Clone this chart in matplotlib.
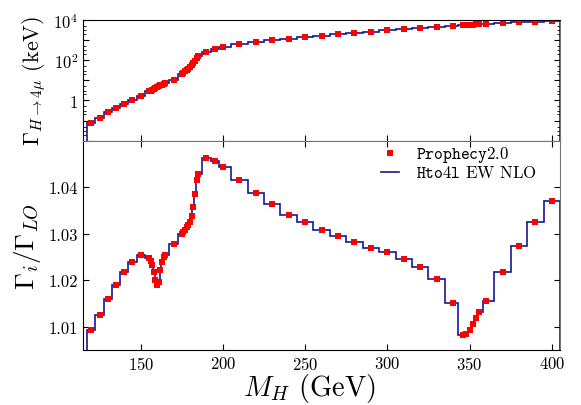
import matplotlib
matplotlib.use("Agg")
import matplotlib.pyplot as plt
from matplotlib.ticker import FixedLocator, LogLocator, NullFormatter
import numpy as np

plt.rcParams['font.family'] = 'serif'
plt.rcParams['font.serif'] = ['cmr10']
plt.rcParams['mathtext.fontset'] = 'cm'
plt.rcParams['axes.formatter.use_mathtext'] = True

# Higgs masses (GeV)
mass = np.array([120, 125, 130, 135, 140, 145, 150,
                 155, 156, 157, 158, 159, 160, 161, 162, 163, 164, 165,
                 170, 175, 176, 177, 178, 179, 180, 181, 182, 183, 184, 185,
                 190, 195, 200, 210, 220, 230, 240, 250, 260, 270, 280, 290,
                 300, 310, 320, 330, 340, 346, 348, 350, 352, 354, 356,
                 360, 370, 380, 390, 400])

# partial width H -> 4mu (keV)
gamma_4mu = np.array([0.073, 0.133, 0.255, 0.416, 0.656, 1.07, 1.69,
                      2.79, 3.08, 3.39, 3.73, 4.11, 4.53, 4.99, 5.50, 6.03, 6.61, 7.24,
                      10.5, 20.7, 23.7, 27.3, 31.6, 36.6, 43.7, 53.7, 69.2, 93.3, 126, 155,
                      245, 347, 421, 612, 743, 933, 1122, 1409, 1622, 1914, 2223, 2594,
                      2917, 3388, 3793, 4406, 4932, 5430, 5560, 5650, 5750, 5860, 5960,
                      6166, 6761, 7516, 8128, 9120])

# ratio Gamma_i / Gamma_LO
ratio = np.array([1.0093, 1.0125, 1.0160, 1.0190, 1.0217, 1.0240, 1.0253,
                  1.0248, 1.0241, 1.0232, 1.0217, 1.0201, 1.0190, 1.0196, 1.0222, 1.0240, 1.0249, 1.0255,
                  1.0278, 1.0299, 1.0303, 1.0308, 1.0314, 1.0319, 1.0325, 1.0337, 1.0357, 1.0386, 1.0416, 1.0429,
                  1.0462, 1.0457, 1.0444, 1.0416, 1.0388, 1.0363, 1.0341, 1.0325, 1.0308, 1.0295, 1.0283, 1.0270,
                  1.0260, 1.0246, 1.0229, 1.0202, 1.0150, 1.0082, 1.0083, 1.0093, 1.0105, 1.0118, 1.0131,
                  1.0156, 1.0217, 1.0274, 1.0325, 1.0370])

# Hto4l histogram sits on the same values
hto4l_gamma = gamma_4mu
hto4l_ratio = ratio

# bin edges halfway between neighbouring masses
mid = (mass[1:] + mass[:-1]) / 2
edges = np.concatenate([[mass[0] - (mass[1] - mass[0]) / 2], mid,
                        [mass[-1] + (mass[-1] - mass[-2]) / 2]])

line_col = '#15159a'
pt_col = '#ff0000'

fig = plt.figure(figsize=(5.81, 4.06), dpi=100)
ax1 = fig.add_axes([0.143, 0.651, 0.821, 0.298])
ax2 = fig.add_axes([0.143, 0.136, 0.821, 0.515])

# top panel
ax1.stairs(hto4l_gamma, edges, baseline=1e-4, color=line_col, lw=1.2)
ax1.plot(mass, gamma_4mu, 's', color=pt_col, ms=3.8, mew=0)
ax1.set_yscale('log')
ax1.set_ylim(1e-2, 1e4)
ax1.set_xlim(115, 405)
ax1.yaxis.set_major_locator(FixedLocator([1e-2, 1e-1, 1, 1e1, 1e2, 1e3, 1e4]))
ax1.set_yticklabels(['', '', '$1$', '', '$10^2$', '', '$10^4$'])
ax1.yaxis.set_minor_locator(LogLocator(base=10, subs=(2, 3, 5), numticks=20))
ax1.yaxis.set_minor_formatter(NullFormatter())
ax1.set_xticks([150, 200, 250, 300, 350, 400])
ax1.set_xticklabels([])
ax1.tick_params(axis='y', which='both', direction='in', left=True, right=True, labelsize=12)
ax1.tick_params(axis='x', direction='in', top=False, bottom=True)
ax1.tick_params(which='major', length=4)
ax1.tick_params(which='minor', length=2)
ax1.set_ylabel(r'$\Gamma_{H\to4\mu}$ (keV)', fontsize=16)

# bottom panel
ax2.stairs(hto4l_ratio, edges, baseline=1.0, color=line_col, lw=1.2, label=r'$\mathtt{Hto4l}$ EW NLO')
ax2.plot(mass, ratio, 's', color=pt_col, ms=3.8, mew=0, label=r'$\mathtt{Prophecy2.0}$')
ax2.set_xlim(115, 405)
ax2.set_ylim(1.005, 1.05)
ax2.set_yticks([1.01, 1.02, 1.03, 1.04])
ax2.set_yticklabels(['1.01', '1.02', '1.03', '1.04'])
ax2.set_xticks([150, 200, 250, 300, 350, 400])
ax2.tick_params(direction='in', top=True, right=True, labelsize=12, length=4)
ax2.set_ylabel(r'$\Gamma_i/\Gamma_{LO}$', fontsize=19.5)
ax2.set_xlabel(r'$M_H$ (GeV)', fontsize=20.5)
ax2.xaxis.set_label_coords(0.475, -0.10)
ax2.xaxis.label.set_va('top')

for ax in (ax1, ax2):
    ax.spines['right'].set_color('#777777')
ax2.spines['top'].set_color('#777777')

handles, labels = ax2.get_legend_handles_labels()
ax2.legend(handles[::-1], labels[::-1], loc='upper right', frameon=False,
           bbox_to_anchor=(0.955, 0.99), borderaxespad=0.0,
           fontsize=12.1, handlelength=1.1, handletextpad=1.0,
           labelspacing=0.0, borderpad=0.1)

fig.align_ylabels([ax1, ax2])
fig.savefig('out.png', dpi=100)
